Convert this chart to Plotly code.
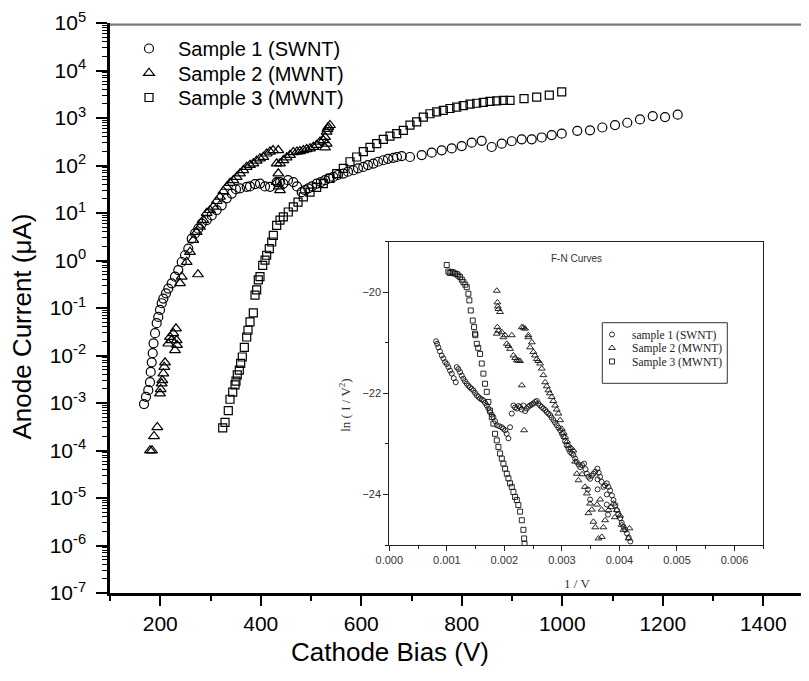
import plotly.graph_objects as go

# ---------------- Main plot data: cathode bias (V) vs anode current (uA) ----------------
s1_v = [167.7, 171.6, 176.2, 179.6, 181.0, 183.0, 185.0, 186.6, 189.6, 192.9, 196.1, 199.5,
        202.9, 206.1, 211.4, 216.0, 222.8, 229.4, 235.9, 242.7, 249.3, 255.8, 262.6, 269.2,
        275.7, 282.5, 292.4, 302.4, 312.3, 322.3, 332.2, 342.2, 350.7, 358.7, 372.0, 378.6,
        388.6, 398.5, 408.5, 418.4, 431.7, 438.3, 444.9, 454.2, 464.8, 472.1, 481.5, 488.1,
        494.6, 502.0, 511.3, 519.5, 527.9, 535.8, 544.4, 553.7, 564.3, 573.6, 584.2, 593.5,
        604.1, 613.4, 624.0, 633.3, 643.9, 653.2, 663.8, 671.1, 680.5, 697.0, 720.3, 740.2,
        760.1, 780.0, 799.9, 819.8, 839.7, 859.6, 879.5, 899.4, 919.3, 939.2, 959.1, 979.0,
        998.9, 1029.9, 1055.2, 1079.7, 1105.0, 1129.4, 1154.7, 1180.0, 1204.5, 1229.7]
s1_i = [9.5e-4, 1.35e-3, 1.86e-3, 2.75e-3, 4.5e-3, 7.2e-3, 0.0112, 0.018, 0.0295, 0.048, 0.065, 0.091,
        0.126, 0.158, 0.204, 0.257, 0.331, 0.457, 0.63, 0.93, 1.29, 1.78, 2.88, 3.72,
        4.68, 6.0, 7.1, 8.9, 11.5, 14.5, 20.4, 25.7, 31.6, 33.1, 35.5, 36.3,
        40.7, 41.7, 36.3, 35.5, 44.7, 44.7, 41.7, 49.0, 44.7, 36.3, 27.5, 30.2,
        33.1, 36.3, 41.7, 44.7, 49.0, 53.7, 57.5, 63.1, 67.6, 74.1, 79.4, 87.1,
        93.3, 102, 110, 120, 129, 138, 145, 151, 158, 151, 166, 186,
        209, 229, 257, 302, 331, 245, 288, 324, 355, 355, 389, 437,
        468, 537, 550, 631, 708, 794, 933, 1096, 1047, 1175]

s2_v = [179.6, 183.6, 187.6, 194.1, 199.5, 200.9, 202.9, 204.1, 206.1, 208.1, 209.5, 216.0,
        219.4, 222.4, 226.0, 229.4, 231.3, 232.7, 233.3, 239.3, 242.7, 252.6, 259.2, 265.8,
        272.5, 275.1, 279.1, 285.7, 292.4, 299.0, 305.6, 312.3, 318.9, 325.5, 332.2, 338.8,
        345.4, 352.1, 358.7, 365.3, 372.0, 378.6, 385.2, 391.9, 398.5, 405.1, 411.8, 418.4,
        424.4, 434.9, 434.9, 431.7, 436.3, 438.3, 431.7, 438.3, 444.9, 451.6, 458.2, 464.8,
        472.1, 478.1, 484.7, 491.4, 498.0, 504.6, 511.3, 517.9, 524.5, 527.9, 531.2, 532.8,
        534.4, 537.8, 531.2, 527.9]
s2_i = [1.0e-4, 1.0e-4, 2.0e-4, 3.1e-4, 1.58e-3, 1.95e-3, 2.57e-3, 3.0e-3, 4.2e-3, 5.75e-3, 7.1e-3, 0.0178,
        0.0245, 0.0209, 0.0295, 0.0129, 0.037, 0.0209, 0.0166, 0.331, 0.457, 0.93, 1.51, 2.69,
        3.98, 0.51, 5.1, 7.1, 10.0, 11.5, 13.5, 17.8, 21.9, 28.8, 35.5, 42.7,
        49.0, 57.5, 67.6, 79.4, 93.3, 102, 110, 126, 141, 151, 178, 195,
        209, 209, 67.6, 44.7, 36.3, 30.2, 110, 110, 129, 148, 166, 191,
        195, 200, 209, 219, 229, 245, 269, 316, 339, 398, 513, 589,
        646, 708, 288, 240]

s3_v = [324.3, 328.9, 335.4, 338.8, 344.2, 348.8, 350.7, 353.3, 357.3, 360.1, 363.3, 367.3,
        372.0, 374.6, 378.6, 385.2, 388.6, 391.9, 395.1, 398.5, 403.9, 408.5, 411.8, 417.0,
        421.8, 425.0, 431.7, 438.3, 444.9, 454.8, 464.8, 474.1, 484.7, 498.0, 511.3, 524.5,
        537.8, 551.1, 564.3, 577.6, 590.9, 604.1, 617.4, 630.7, 643.9, 657.2, 670.5, 683.7,
        697.0, 710.3, 723.5, 736.8, 750.1, 763.3, 776.6, 789.9, 803.1, 816.4, 829.7, 842.9,
        856.2, 869.5, 882.7, 896.0, 923.9, 949.1, 974.2, 998.9]
s3_i = [3.0e-4, 3.9e-4, 6.9e-4, 1.2e-3, 1.7e-3, 2.4e-3, 2.9e-3, 3.9e-3, 4.9e-3, 6.8e-3, 9.3e-3, 0.0148,
        0.0245, 0.034, 0.051, 0.079, 0.186, 0.24, 0.39, 0.457, 0.79, 1.02, 1.29, 1.78,
        2.45, 3.39, 5.5, 7.1, 8.3, 10.5, 13.5, 17.0, 21.9, 27.5, 34.7, 41.7,
        53.7, 67.6, 87.1, 120, 151, 195, 240, 288, 355, 417, 468, 550,
        708, 832, 1047, 1230, 1349, 1445, 1585, 1698, 1820, 1950, 2042, 2138,
        2239, 2291, 2344, 2344, 2570, 2754, 3020, 3548]

# ---------------- Inset data: F-N curves, 1/V vs ln(I/V^2) ----------------
fn1_x = [0.000812, 0.000830, 0.000852, 0.000880, 0.000911, 0.000940, 0.000969, 0.001000, 0.001026,
         0.001055, 0.001085, 0.001120, 0.001155, 0.001172, 0.001200, 0.00123, 0.00126, 0.001287,
         0.001315, 0.001346, 0.001375, 0.001403, 0.00143, 0.001461, 0.00149, 0.00152, 0.00155,
         0.001577, 0.001605, 0.001635, 0.001665, 0.001694, 0.001722, 0.001751, 0.00178, 0.001809,
         0.00184, 0.001868, 0.00191, 0.001955, 0.00198, 0.002012, 0.00204, 0.00207, 0.002099,
         0.002129, 0.002157, 0.002185, 0.002216, 0.002245, 0.002273, 0.0023, 0.00233, 0.00236,
         0.00239, 0.00242, 0.002447, 0.002475, 0.002504, 0.002535, 0.002563, 0.00259, 0.00262,
         0.00265, 0.002678, 0.00271, 0.002737, 0.002765, 0.002795, 0.00282, 0.002852, 0.00288,
         0.002911, 0.00294, 0.002969, 0.003, 0.003026, 0.003055, 0.003085, 0.003115, 0.003143,
         0.00317, 0.0032, 0.00323, 0.003259, 0.00329, 0.003317, 0.00335, 0.003386, 0.00341,
         0.003433, 0.00346, 0.00349, 0.00352, 0.003548, 0.00358, 0.003617, 0.00364, 0.003664,
         0.00369, 0.003722, 0.00375, 0.003781, 0.00381, 0.003838, 0.00387, 0.003896, 0.00393,
         0.003955, 0.00398, 0.004012, 0.00404, 0.00407, 0.0041, 0.004129, 0.00416, 0.00419,
         0.00362, 0.00362, 0.00378, 0.00378, 0.0038, 0.00345, 0.00349]
fn1_y = [-20.97, -21.02, -21.09, -21.17, -21.25, -21.31, -21.38, -21.42, -21.48,
         -21.55, -21.61, -21.70, -21.78, -21.48, -21.52, -21.58, -21.65, -21.71,
         -21.76, -21.81, -21.85, -21.88, -21.91, -21.94, -21.99, -22.04, -22.07,
         -22.10, -22.12, -22.14, -22.19, -22.24, -22.30, -22.37, -22.42, -22.47,
         -22.55, -22.63, -22.65, -22.67, -22.70, -22.73, -22.80, -22.89, -22.67,
         -22.40, -22.24, -22.28, -22.30, -22.25, -22.27, -22.32, -22.24, -22.35,
         -22.30, -22.26, -22.24, -22.22, -22.20, -22.17, -22.15, -22.20, -22.24,
         -22.27, -22.30, -22.33, -22.37, -22.40, -22.43, -22.48, -22.53, -22.58,
         -22.63, -22.68, -22.73, -22.80, -22.86, -22.95, -23.03, -23.10, -23.16,
         -23.19, -23.22, -23.29, -23.36, -23.41, -23.46, -23.42, -23.39, -23.50,
         -23.59, -23.65, -23.69, -23.63, -23.59, -23.55, -23.49, -23.57, -23.65,
         -23.75, -23.85, -23.82, -23.78, -23.85, -23.92, -24.02, -24.11, -24.21,
         -24.31, -24.39, -24.47, -24.56, -24.64, -24.70, -24.77, -24.85, -24.93,
         -23.7, -23.9, -24.0, -24.2, -24.4, -23.9, -24.1]

fn2_x = [0.001868, 0.001878, 0.001885, 0.001896, 0.001925, 0.001878, 0.001896, 0.001868, 0.001955,
         0.001983, 0.002012, 0.002042, 0.00207, 0.002099, 0.002129, 0.002157, 0.00219, 0.002216,
         0.002245, 0.002273, 0.002303, 0.00233, 0.00236, 0.002303, 0.002343, 0.002417, 0.002417,
         0.002447, 0.002477, 0.002504, 0.00253, 0.002563, 0.00259, 0.00262, 0.00265, 0.002678,
         0.002708, 0.002737, 0.002765, 0.00279, 0.002824, 0.00285, 0.002882, 0.00291, 0.002939,
         0.002969, 0.002998, 0.00303, 0.003056, 0.00309, 0.003113, 0.00316, 0.0032, 0.00323,
         0.003259, 0.003287, 0.00335, 0.0034, 0.003433, 0.003461, 0.00349, 0.00352, 0.003548,
         0.00358, 0.003635, 0.003694, 0.00372, 0.003751, 0.003809, 0.00385, 0.003896, 0.00392,
         0.003955, 0.004012, 0.00404, 0.00407, 0.004157, 0.004174, 0.003665, 0.00369, 0.00361]
fn2_y = [-19.97, -20.20, -20.28, -20.33, -20.39, -20.69, -20.76, -20.82, -20.79,
         -20.89, -20.85, -21.02, -21.06, -21.12, -20.85, -21.25, -21.30, -21.35,
         -21.35, -21.36, -20.69, -20.70, -20.72, -21.84, -22.73, -20.85, -20.89,
         -21.09, -20.99, -21.18, -21.25, -21.32, -21.36, -21.41, -21.51, -21.64,
         -21.78, -21.86, -21.94, -22.00, -22.07, -22.15, -22.24, -22.32, -22.40,
         -22.53, -22.70, -22.78, -22.86, -22.95, -23.03, -23.08, -23.13, -23.35,
         -23.59, -23.72, -23.60, -23.85, -23.98, -24.37, -24.18, -24.30, -24.54,
         -24.65, -24.87, -24.84, -24.65, -24.51, -24.31, -24.25, -24.18, -24.45,
         -24.31, -24.42, -24.60, -24.70, -24.87, -24.67, -24.10, -24.30, -24.20]

fn3_x = [0.000998, 0.001026, 0.00105, 0.00108, 0.001113, 0.00114, 0.001172, 0.0012, 0.00123,
         0.00126, 0.001287, 0.00132, 0.001346, 0.001374, 0.001391, 0.001416, 0.00145, 0.001473,
         0.00149, 0.001496, 0.00152, 0.001545, 0.001577, 0.001607, 0.001635, 0.001664, 0.001694,
         0.001722, 0.001751, 0.001781, 0.001809, 0.001838, 0.001868, 0.001896, 0.001925, 0.001955,
         0.001983, 0.002012, 0.002042, 0.00207, 0.002099, 0.002129, 0.002157, 0.002186, 0.002216,
         0.002243, 0.002273, 0.002303, 0.00233, 0.002343, 0.00235]
fn3_y = [-19.46, -19.59, -19.62, -19.60, -19.61, -19.63, -19.64, -19.67, -19.70,
         -19.75, -19.80, -19.85, -19.90, -20.03, -20.16, -20.36, -20.56, -20.69,
         -20.82, -20.85, -21.02, -21.10, -21.22, -21.41, -21.61, -21.81, -21.97,
         -22.17, -22.34, -22.47, -22.60, -22.80, -22.93, -23.06, -23.19, -23.29,
         -23.39, -23.49, -23.59, -23.68, -23.78, -23.85, -23.95, -24.05, -24.11,
         -24.21, -24.34, -24.51, -24.70, -24.87, -24.98]

main_names = ["Sample 1 (SWNT)", "Sample 2 (MWNT)", "Sample 3 (MWNT)"]
inset_names = ["sample 1 (SWNT)", "Sample 2 (MWNT)", "Sample 3 (MWNT)"]
symbols = ["circle-open", "triangle-up-open", "square-open"]

x_range = [100, 1491]
x_ticks = [200, 400, 600, 800, 1000, 1200, 1400]
x_minor = [100, 300, 500, 700, 900, 1100, 1300]
y_exps = list(range(-7, 6))
y_ticks = [10.0 ** e for e in y_exps]
y_ticktext = ["10<sup>%d</sup>" % e for e in y_exps]
y_minor = [m * 10.0 ** e for e in range(-7, 5) for m in range(2, 10)]
fn_xticks = [0, 0.001, 0.002, 0.003, 0.004, 0.005, 0.006]
fn_xticktext = ["0.000", "0.001", "0.002", "0.003", "0.004", "0.005", "0.006"]
fn_yticks = [-24, -22, -20]

ARIAL = 'Arial, "Liberation Sans", sans-serif'
SERIF = '"Times New Roman", "Liberation Serif", serif'

fig = go.Figure()
main_sizes = [9, 9.5, 8]
main_legends = ["legend", "legend3", "legend4"]
for name, sym, sz, lg, xs, ys in zip(main_names, symbols, main_sizes, main_legends,
                                     [s1_v, s2_v, s3_v], [s1_i, s2_i, s3_i]):
    fig.add_trace(go.Scatter(x=xs, y=ys, mode="markers", name=name, legend=lg,
                             marker=dict(symbol=sym, size=sz, color="black", line=dict(width=1.2))))

inset_sizes = [5, 6, 5]
inset_legends = ["legend2", "legend5", "legend6"]
for name, sym, sz, lg, xs, ys in zip(inset_names, symbols, inset_sizes, inset_legends,
                                     [fn1_x, fn2_x, fn3_x], [fn1_y, fn2_y, fn3_y]):
    fig.add_trace(go.Scatter(x=xs, y=ys, mode="markers", name=name, legend=lg,
                             xaxis="x2", yaxis="y2",
                             marker=dict(symbol=sym, size=sz, color="#111111", line=dict(width=0.9))))

main_leg = dict(xanchor="left", yanchor="top", bgcolor="rgba(0,0,0,0)", borderwidth=0,
                itemwidth=48, font=dict(size=20, family=ARIAL, color="black"))
inset_leg = dict(xanchor="left", yanchor="top", bgcolor="rgba(0,0,0,0)", borderwidth=0,
                 itemwidth=30, font=dict(size=11.5, family=SERIF, color="#222"))

fig.update_layout(
    width=809, height=681,
    # the page body adds an 8 px offset; margins compensate so the plot area sits where the reference has it
    margin=dict(l=102, r=8, t=15, b=96),
    paper_bgcolor="white", plot_bgcolor="white",
    font=dict(family=ARIAL, color="black", size=20),
    xaxis=dict(domain=[0, 1], range=x_range, tickmode="array", tickvals=x_ticks,
               ticks="outside", ticklen=10, tickwidth=2, tickcolor="black", automargin=False,
               showline=True, linecolor="black", linewidth=2.5, showgrid=False, zeroline=False,
               tickfont=dict(size=21, family=ARIAL),
               minor=dict(tickmode="array", tickvals=x_minor, ticks="outside", ticklen=5,
                          tickwidth=1.5, tickcolor="black", showgrid=False)),
    yaxis=dict(type="log", range=[-7, 5], tickmode="array", tickvals=y_ticks, ticktext=y_ticktext,
               ticks="outside", ticklen=11, tickwidth=2, tickcolor="black", automargin=False,
               showline=True, linecolor="black", linewidth=2.5, showgrid=False, zeroline=False,
               tickfont=dict(size=21, family=ARIAL), ticklabelstandoff=6,
               minor=dict(tickmode="array", tickvals=y_minor, ticks="outside", ticklen=5,
                          tickwidth=1, tickcolor="black", showgrid=False)),
    xaxis2=dict(domain=[0.3996, 0.9346], anchor="y2", range=[0, 0.0065], tickmode="array",
                tickvals=fn_xticks, ticktext=fn_xticktext, ticks="outside", ticklen=5, tickwidth=1,
                tickcolor="#222", showline=True, mirror=True, linecolor="#222", linewidth=1,
                automargin=False,
                showgrid=False, zeroline=False, tickfont=dict(size=11, family=ARIAL, color="#333"),
                minor=dict(dtick=0.0005, tick0=0, ticks="outside", ticklen=3, tickwidth=1,
                           tickcolor="#222", showgrid=False)),
    yaxis2=dict(domain=[0.0842, 0.6163], anchor="x2", range=[-25, -19], tickmode="array",
                tickvals=fn_yticks, ticks="outside", ticklen=5, tickwidth=1, tickcolor="#222",
                showline=True, mirror=True, linecolor="#222", linewidth=1, automargin=False,
                showgrid=False, zeroline=False, tickfont=dict(size=11, family=ARIAL, color="#333"),
                minor=dict(dtick=1, tick0=-25, ticks="outside", ticklen=3, tickwidth=1,
                           tickcolor="#222", showgrid=False)),
    legend=dict(x=0.0143, y=0.9895, **main_leg),
    legend3=dict(x=0.0143, y=0.9465, **main_leg),
    legend4=dict(x=0.0143, y=0.9035, **main_leg),
    legend2=dict(x=0.6896, y=0.4790, **inset_leg),
    legend5=dict(x=0.6896, y=0.4553, **inset_leg),
    legend6=dict(x=0.6896, y=0.4316, **inset_leg),
    showlegend=True,
    shapes=[
        # grey top frame line of the main plot
        dict(type="line", xref="paper", yref="paper", x0=0, x1=1, y0=0.997, y1=0.997,
             line=dict(color="#7a7a7a", width=2.2), layer="above"),
        # inset legend frame
        dict(type="rect", xref="paper", yref="paper", x0=0.7043, x1=0.8831, y0=0.3679, y1=0.4742,
             line=dict(color="#333", width=1), fillcolor="rgba(0,0,0,0)", layer="above"),
    ],
    annotations=[
        dict(text="Anode Current (\u03bcA)", xref="paper", yref="paper", x=-0.1259, y=0.4675,
             textangle=-90, showarrow=False, xanchor="center", yanchor="middle",
             font=dict(size=26, family=ARIAL, color="black")),
        dict(text="Cathode Bias (V)", xref="paper", yref="paper", x=0.4006, y=-0.1035,
             showarrow=False, xanchor="center", yanchor="middle",
             font=dict(size=26, family=ARIAL, color="black")),
        dict(text="F-N Curves", xref="paper", yref="paper", x=0.668, y=0.5877,
             showarrow=False, xanchor="center", yanchor="middle",
             font=dict(size=10, family=ARIAL, color="#333")),
        dict(text="1 / V", xref="paper", yref="paper", x=0.668, y=0.0175,
             showarrow=False, xanchor="center", yanchor="middle",
             font=dict(size=13, family=SERIF, color="#333")),
        dict(text="ln ( I / V<sup>2</sup>)", xref="paper", yref="paper", x=0.336, y=0.33,
             textangle=-90, showarrow=False, xanchor="center", yanchor="middle",
             font=dict(size=13, family=SERIF, color="#333")),
    ],
)

fig.write_html("out.html")
